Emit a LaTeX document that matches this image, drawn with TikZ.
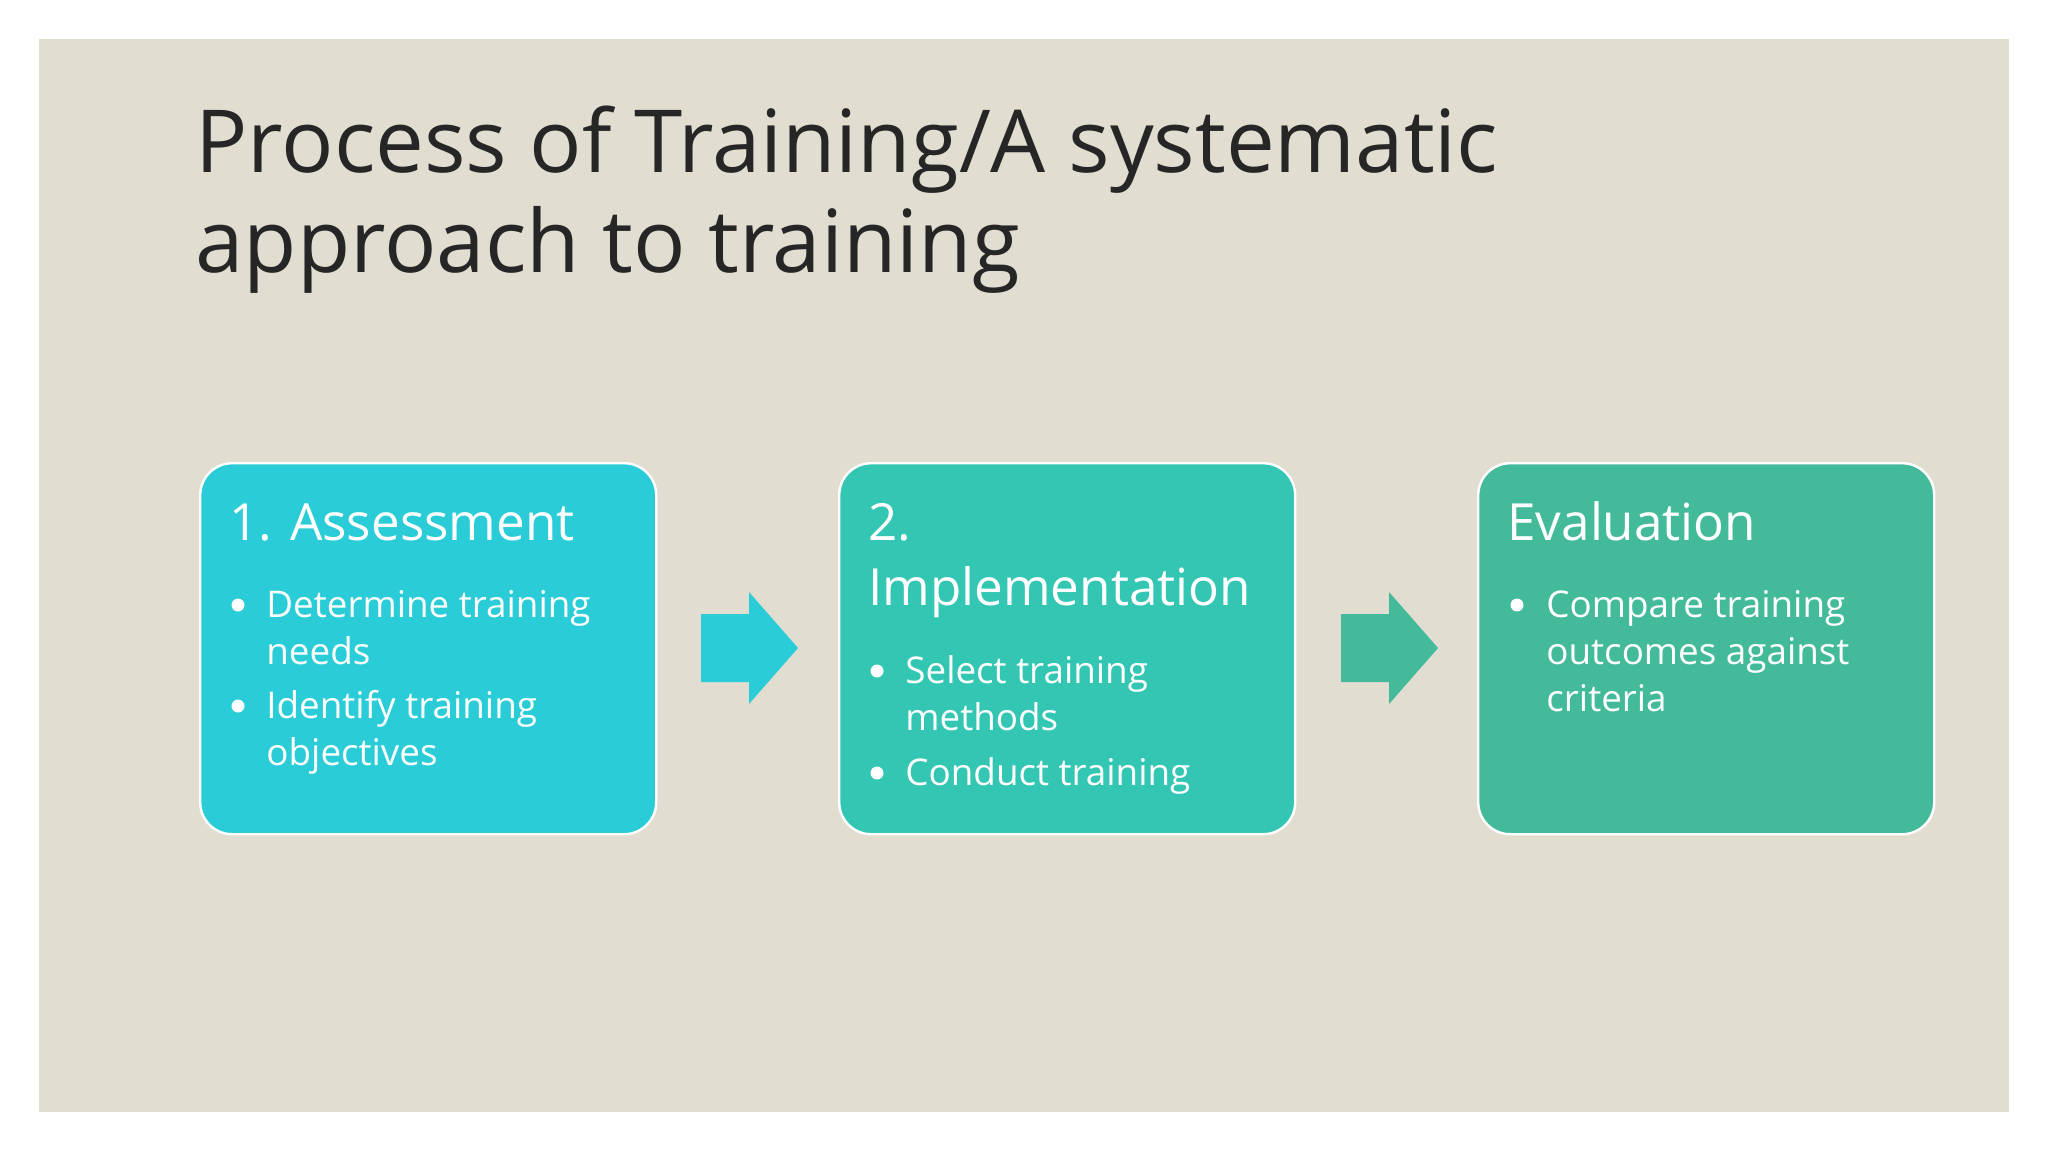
\documentclass[tikz,border=0pt]{standalone}
\usepackage{fontspec}
\setmainfont{Open Sans}
\definecolor{bgc}{HTML}{E1DDD0}
\definecolor{cA}{HTML}{29CCD7}
\definecolor{cB}{HTML}{33C6B3}
\definecolor{cC}{HTML}{43BA9A}
\definecolor{ttl}{HTML}{262626}
\tikzset{
  box/.style={draw=white, line width=1.2pt, rounded corners=16pt, inner sep=0pt, anchor=north west},
  boxtitle/.style={anchor=base west, inner sep=0pt, text=white, font=\fontsize{25.6}{30}\selectfont},
  bul/.style={anchor=base west, inner sep=0pt, text=white, font=\fontsize{18.4}{22}\selectfont},
  dot/.style={fill=white, circle, inner sep=0pt, minimum size=6.5pt},
  ttlfont/.style={anchor=base west, inner sep=0pt, text=ttl, font=\fontsize{43.5}{50}\selectfont}
}
\begin{document}
\begin{tikzpicture}[x=0.5pt,y=-0.5pt]
\useasboundingbox (0,0) rectangle (2048,1152);
\fill[white] (0,0) rectangle (2048,1152);
\fill[bgc] (39,39) rectangle (2009,1112);
% title
\node[ttlfont] (t1) at (195,172) {Process of Training/A systematic};
\node[ttlfont] (t2) at (195,272) {approach to training};
% boxes
\node[box, fill=cA, minimum width=228pt, minimum height=185.5pt] (b1) at (199,462) {};
\node[box, fill=cB, minimum width=228pt, minimum height=185.5pt] (b2) at (838,462) {};
\node[box, fill=cC, minimum width=228pt, minimum height=185.5pt] (b3) at (1477,462) {};
% arrows
\fill[cA] (701,614) -- (749,614) -- (749,592) -- (798,648) -- (749,704) -- (749,682) -- (701,682) -- cycle;
\fill[cC] (1341,614) -- (1389,614) -- (1389,592) -- (1438,648) -- (1389,704) -- (1389,682) -- (1341,682) -- cycle;
% box 1 text
\node[boxtitle] (h1) at (229,540) {1. Assessment};
\node[dot] (d11) at (238,605) {};
\node[bul] (l11) at (266,617) {Determine training};
\node[bul] (l12) at (266,664) {needs};
\node[dot] (d12) at (238,706) {};
\node[bul] (l13) at (266,718) {Identify training};
\node[bul] (l14) at (266,765) {objectives};
% box 2 text
\node[boxtitle] (h21) at (868,540) {2.};
\node[boxtitle] (h22) at (868,605) {Implementation};
\node[dot] (d21) at (877,671) {};
\node[bul] (l21) at (905,683) {Select training};
\node[bul] (l22) at (905,730) {methods};
\node[dot] (d22) at (877,773) {};
\node[bul] (l23) at (905,785) {Conduct training};
% box 3 text
\node[boxtitle] (h3) at (1507,540) {Evaluation};
\node[dot] (d31) at (1517,605) {};
\node[bul] (l31) at (1546,617) {Compare training};
\node[bul] (l32) at (1546,664) {outcomes against};
\node[bul] (l33) at (1546,711) {criteria};
\end{tikzpicture}
\end{document}
